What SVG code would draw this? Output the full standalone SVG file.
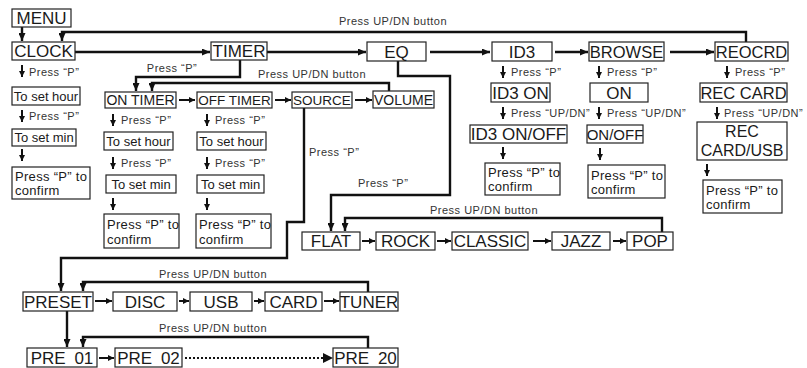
<svg xmlns="http://www.w3.org/2000/svg" width="807" height="368" viewBox="0 0 807 368">
<defs>
<style>
.bx{fill:#fff;stroke:#222;stroke-width:1.2}
.t17{font-family:"Liberation Sans",Arial,sans-serif;font-size:17px;fill:#1a1a1a;text-anchor:middle}
.t14{font-family:"Liberation Sans",Arial,sans-serif;font-size:14px;fill:#1a1a1a;text-anchor:middle}
.t13{font-family:"Liberation Sans",Arial,sans-serif;font-size:13px;fill:#1a1a1a;text-anchor:middle}
.t13l{font-family:"Liberation Sans",Arial,sans-serif;font-size:13px;fill:#1a1a1a;letter-spacing:0.3px}
.lb{font-family:"Liberation Sans",Arial,sans-serif;font-size:11px;fill:#333;letter-spacing:0.5px}
.lbc{font-family:"Liberation Sans",Arial,sans-serif;font-size:11px;fill:#333;letter-spacing:0.5px;text-anchor:middle}
.cn{fill:none;stroke:#111;stroke-width:2.4}
.sa{fill:none;stroke:#111;stroke-width:2}
.dot{fill:none;stroke:#111;stroke-width:2;stroke-dasharray:2 2}
</style>
<marker id="ah" viewBox="0 0 8 7" refX="8" refY="3.5" markerWidth="8" markerHeight="7" markerUnits="userSpaceOnUse" orient="auto"><path d="M0,0 L8,3.5 L0,7 z" fill="#111"/></marker>
<marker id="sh" viewBox="0 0 6 6" refX="6" refY="3" markerWidth="6" markerHeight="6" markerUnits="userSpaceOnUse" orient="auto"><path d="M0,0 L6,3 L0,6 z" fill="#111"/></marker>
</defs>

<g id="connectors">
<polyline class="cn" points="746,42 746,32 62,32 62,41" marker-end="url(#ah)"/>
<line class="cn" x1="22" y1="27" x2="22" y2="41" marker-end="url(#ah)"/>
<line class="cn" x1="75" y1="52" x2="210" y2="52" marker-end="url(#ah)"/>
<line class="cn" x1="267" y1="52" x2="366" y2="52" marker-end="url(#ah)"/>
<line class="cn" x1="430" y1="52" x2="490" y2="52" marker-end="url(#ah)"/>
<line class="cn" x1="555" y1="52" x2="588" y2="52" marker-end="url(#ah)"/>
<line class="cn" x1="670" y1="52" x2="714" y2="52" marker-end="url(#ah)"/>
<line class="sa" x1="22" y1="65" x2="22" y2="77" marker-end="url(#sh)"/>
<line class="sa" x1="22" y1="110" x2="22" y2="122" marker-end="url(#sh)"/>
<line class="sa" x1="22" y1="149" x2="22" y2="161" marker-end="url(#sh)"/>
<polyline class="cn" points="240,60 240,77 136,77 136,91" marker-end="url(#ah)"/>
<polyline class="cn" points="389,91 389,83 152,83 152,91" marker-end="url(#ah)"/>
<line class="sa" x1="179" y1="100" x2="195" y2="100" marker-end="url(#sh)"/>
<line class="sa" x1="275" y1="100" x2="291" y2="100" marker-end="url(#sh)"/>
<line class="sa" x1="355" y1="100" x2="372" y2="100" marker-end="url(#sh)"/>
<line class="sa" x1="113" y1="114" x2="113" y2="126" marker-end="url(#sh)"/>
<line class="sa" x1="113" y1="157" x2="113" y2="169" marker-end="url(#sh)"/>
<line class="sa" x1="113" y1="198" x2="113" y2="210" marker-end="url(#sh)"/>
<line class="sa" x1="207" y1="114" x2="207" y2="126" marker-end="url(#sh)"/>
<line class="sa" x1="207" y1="157" x2="207" y2="169" marker-end="url(#sh)"/>
<line class="sa" x1="207" y1="198" x2="207" y2="210" marker-end="url(#sh)"/>
<polyline class="cn" points="304,108 304,222 287,222 287,258 61,258 61,291" marker-end="url(#ah)"/>
<polyline class="cn" points="398,61 398,76 450,76 450,195 331,195 331,231" marker-end="url(#ah)"/>
<line class="sa" x1="503" y1="66" x2="503" y2="78" marker-end="url(#sh)"/>
<line class="sa" x1="503" y1="107" x2="503" y2="119" marker-end="url(#sh)"/>
<line class="sa" x1="503" y1="147" x2="503" y2="159" marker-end="url(#sh)"/>
<line class="sa" x1="599" y1="66" x2="599" y2="78" marker-end="url(#sh)"/>
<line class="sa" x1="599" y1="107" x2="599" y2="119" marker-end="url(#sh)"/>
<line class="sa" x1="600" y1="148" x2="600" y2="160" marker-end="url(#sh)"/>
<line class="sa" x1="727" y1="66" x2="727" y2="78" marker-end="url(#sh)"/>
<line class="sa" x1="717" y1="107" x2="717" y2="119" marker-end="url(#sh)"/>
<line class="sa" x1="707" y1="164" x2="707" y2="176" marker-end="url(#sh)"/>
<polyline class="cn" points="662,232 662,218 345,218 345,231" marker-end="url(#ah)"/>
<line class="sa" x1="362" y1="241" x2="375" y2="241" marker-end="url(#sh)"/>
<line class="sa" x1="437" y1="241" x2="451" y2="241" marker-end="url(#sh)"/>
<line class="sa" x1="533" y1="241" x2="551" y2="241" marker-end="url(#sh)"/>
<line class="sa" x1="613" y1="241" x2="626" y2="241" marker-end="url(#sh)"/>
<polyline class="cn" points="368,292 368,282 83,282 83,291" marker-end="url(#ah)"/>
<line class="sa" x1="95" y1="301" x2="112" y2="301" marker-end="url(#sh)"/>
<line class="sa" x1="179" y1="301" x2="189" y2="301" marker-end="url(#sh)"/>
<line class="sa" x1="254" y1="301" x2="264" y2="301" marker-end="url(#sh)"/>
<line class="sa" x1="324" y1="301" x2="339" y2="301" marker-end="url(#sh)"/>
<line class="cn" x1="67" y1="311" x2="67" y2="347" marker-end="url(#ah)"/>
<polyline class="cn" points="368,348 368,337 83,337 83,347" marker-end="url(#ah)"/>
<line class="sa" x1="99" y1="358" x2="114" y2="358" marker-end="url(#sh)"/>
<line class="dot" x1="185" y1="358" x2="324" y2="358"/>
<path d="M323,353 L333,358 L323,363 z" fill="#111"/>
</g>

<g id="labels">
<text class="lbc" x="393" y="25">Press UP/DN button</text>
<text class="lb" x="29" y="76">Press “P”</text>
<text class="lb" x="29" y="120">Press “P”</text>
<text class="lbc" x="172" y="72">Press “P”</text>
<text class="lbc" x="312" y="78">Press UP/DN button</text>
<text class="lb" x="121" y="124">Press “P”</text>
<text class="lb" x="121" y="167">Press “P”</text>
<text class="lb" x="215" y="124">Press “P”</text>
<text class="lb" x="215" y="167">Press “P”</text>
<text class="lb" x="309" y="156">Press “P”</text>
<text class="lb" x="358" y="187">Press “P”</text>
<text class="lb" x="511" y="76">Press “P”</text>
<text class="lb" x="511" y="117">Press “UP/DN”</text>
<text class="lb" x="607" y="76">Press “P”</text>
<text class="lb" x="607" y="117">Press “UP/DN”</text>
<text class="lb" x="735" y="76">Press “P”</text>
<text class="lb" x="724" y="117">Press “UP/DN”</text>
<text class="lbc" x="484" y="214">Press UP/DN button</text>
<text class="lbc" x="213" y="278">Press UP/DN button</text>
<text class="lbc" x="213" y="332">Press UP/DN button</text>
</g>

<g id="menu"><rect class="bx" x="12" y="9" width="59" height="18"/><text class="t17" x="41.5" y="24">MENU</text></g>
<g id="clock"><rect class="bx" x="12" y="42" width="63" height="18"/><text class="t17" x="43.5" y="57">CLOCK</text></g>
<g id="timer"><rect class="bx" x="211" y="42" width="56" height="18"/><text class="t17" x="239" y="57">TIMER</text></g>
<g id="eq"><rect class="bx" x="367" y="42" width="59" height="19"/><text class="t17" x="396.5" y="57.5">EQ</text></g>
<g id="id3"><rect class="bx" x="492" y="42" width="60" height="19"/><text class="t17" x="522" y="57.5">ID3</text></g>
<g id="browse"><rect class="bx" x="589" y="42" width="75" height="19"/><text class="t17" x="626.5" y="57.5" style="font-size:16.5px">BROWSE</text></g>
<g id="reocrd"><rect class="bx" x="715" y="42" width="73" height="19"/><text class="t17" x="751.5" y="57.5" style="font-size:16.5px">REOCRD</text></g>

<g id="clock-hour"><rect class="bx" x="12" y="87" width="68" height="18"/><text class="t13" x="46" y="101">To set hour</text></g>
<g id="clock-min"><rect class="bx" x="12" y="129" width="64" height="17"/><text class="t13" x="44" y="142">To set min</text></g>
<g id="clock-confirm"><rect class="bx" x="12" y="167" width="78" height="32"/><text class="t13l" x="15" y="181">Press “P” to</text><text class="t13l" x="15" y="195">confirm</text></g>

<g id="on-timer"><rect class="bx" x="105" y="92" width="71" height="16"/><text class="t14" x="140.5" y="105">ON TIMER</text></g>
<g id="off-timer"><rect class="bx" x="197" y="92" width="75" height="16"/><text class="t14" x="234.5" y="105" style="font-size:13.5px">OFF TIMER</text></g>
<g id="source"><rect class="bx" x="292" y="92" width="60" height="16"/><text class="t14" x="322" y="105" style="font-size:13.5px">SOURCE</text></g>
<g id="volume"><rect class="bx" x="373" y="91" width="61" height="17"/><text class="t14" x="403.5" y="105">VOLUME</text></g>

<g id="on-hour"><rect class="bx" x="104" y="132" width="69" height="18"/><text class="t13" x="138.5" y="146">To set hour</text></g>
<g id="on-min"><rect class="bx" x="106" y="175" width="70" height="18"/><text class="t13" x="141" y="189">To set min</text></g>
<g id="on-confirm"><rect class="bx" x="104" y="214" width="75" height="34"/><text class="t13l" x="107" y="229">Press “P” to</text><text class="t13l" x="107" y="244">confirm</text></g>
<g id="off-hour"><rect class="bx" x="197" y="132" width="69" height="18"/><text class="t13" x="231.5" y="146">To set hour</text></g>
<g id="off-min"><rect class="bx" x="197" y="175" width="67" height="18"/><text class="t13" x="230.5" y="189">To set min</text></g>
<g id="off-confirm"><rect class="bx" x="196" y="214" width="75" height="34"/><text class="t13l" x="199" y="229">Press “P” to</text><text class="t13l" x="199" y="244">confirm</text></g>

<g id="id3-on"><rect class="bx" x="491" y="83" width="59" height="19"/><text class="t17" x="520.5" y="98.5">ID3 ON</text></g>
<g id="id3-onoff"><rect class="bx" x="470" y="125" width="97" height="18"/><text class="t17" x="518.5" y="140">ID3 ON/OFF</text></g>
<g id="id3-confirm"><rect class="bx" x="485" y="163" width="75" height="32"/><text class="t13l" x="488" y="177">Press “P” to</text><text class="t13l" x="488" y="191">confirm</text></g>

<g id="browse-on"><rect class="bx" x="590" y="83" width="58" height="19"/><text class="t17" x="619" y="98.5">ON</text></g>
<g id="browse-onoff"><rect class="bx" x="587" y="125" width="56" height="18"/><text class="t17" x="615" y="140" style="font-size:15px">ON/OFF</text></g>
<g id="browse-confirm"><rect class="bx" x="588" y="165" width="77" height="33"/><text class="t13l" x="591" y="180">Press “P” to</text><text class="t13l" x="591" y="194">confirm</text></g>

<g id="rec-card"><rect class="bx" x="700" y="83" width="87" height="19"/><text class="t17" x="743.5" y="98.5" style="font-size:16.5px">REC CARD</text></g>
<g id="rec-cardusb"><rect class="bx" x="697" y="122" width="90" height="38"/><text class="t17" x="742" y="137" style="font-size:16px">REC</text><text class="t17" x="742" y="155.5" style="font-size:16px">CARD/USB</text></g>
<g id="rec-confirm"><rect class="bx" x="703" y="180" width="79" height="33"/><text class="t13l" x="706" y="195">Press “P” to</text><text class="t13l" x="706" y="209">confirm</text></g>

<g id="flat"><rect class="bx" x="302" y="232" width="58" height="18"/><text class="t17" x="331" y="247">FLAT</text></g>
<g id="rock"><rect class="bx" x="376" y="232" width="59" height="18"/><text class="t17" x="405.5" y="247">ROCK</text></g>
<g id="classic"><rect class="bx" x="452" y="232" width="76" height="18"/><text class="t17" x="490" y="247">CLASSIC</text></g>
<g id="jazz"><rect class="bx" x="552" y="232" width="58" height="18"/><text class="t17" x="581" y="247">JAZZ</text></g>
<g id="pop"><rect class="bx" x="627" y="232" width="46" height="18"/><text class="t17" x="650" y="247">POP</text></g>

<g id="preset"><rect class="bx" x="23" y="292" width="70" height="19"/><text class="t17" x="58" y="307.5">PRESET</text></g>
<g id="disc"><rect class="bx" x="113" y="292" width="64" height="19"/><text class="t17" x="145" y="307.5">DISC</text></g>
<g id="usb"><rect class="bx" x="190" y="292" width="62" height="19"/><text class="t17" x="221" y="307.5">USB</text></g>
<g id="card"><rect class="bx" x="265" y="292" width="57" height="19"/><text class="t17" x="293.5" y="307.5">CARD</text></g>
<g id="tuner"><rect class="bx" x="340" y="292" width="58" height="19"/><text class="t17" x="369" y="307.5">TUNER</text></g>

<g id="pre01"><rect class="bx" x="27" y="348" width="70" height="19"/><text class="t17" x="62" y="363.5" word-spacing="4">PRE 01</text></g>
<g id="pre02"><rect class="bx" x="115" y="348" width="67" height="19"/><text class="t17" x="148.5" y="363.5" word-spacing="4">PRE 02</text></g>
<g id="pre20"><rect class="bx" x="333" y="348" width="65" height="19"/><text class="t17" x="365.5" y="363.5" word-spacing="4">PRE 20</text></g>
</svg>
